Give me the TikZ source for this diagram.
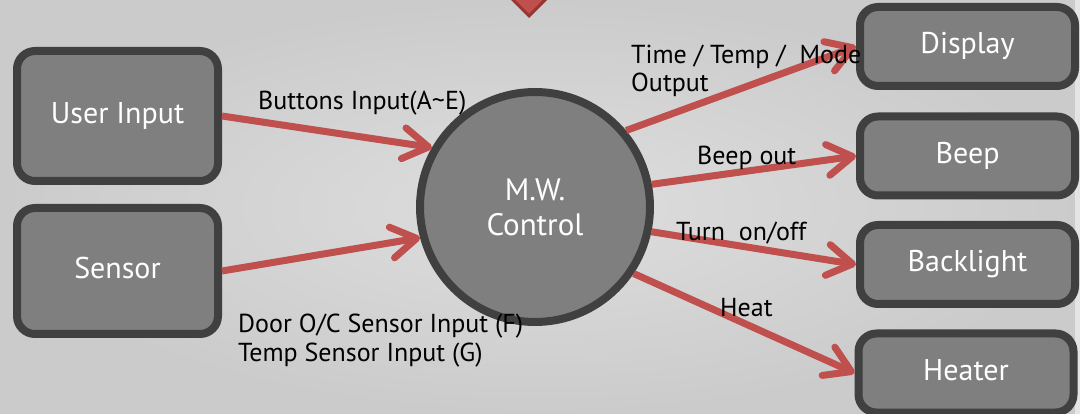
\documentclass[tikz,border=0pt]{standalone}
\usepackage{fontspec}
\setmainfont{PT Sans}
\usetikzlibrary{arrows.meta,shapes.geometric}
\definecolor{bgI}{HTML}{DEDEDE}
\definecolor{bgO}{HTML}{CBCBCB}
\definecolor{boxf}{HTML}{7F7F7F}
\definecolor{boxb}{HTML}{404040}
\definecolor{redc}{HTML}{C0504D}
\definecolor{dred}{HTML}{963634}
\begin{document}
\begin{tikzpicture}[x=1pt,y=-1pt,
  box/.style={draw=boxb, fill=boxf, line width=8pt, rounded corners=18pt, text=white,
    font=\fontsize{30}{34}\selectfont, text height=21pt, text depth=6pt, inner sep=0pt},
  lbox/.style={box, minimum width=201pt},
  rbox/.style={box, minimum width=215pt, minimum height=79pt},
  lab/.style={font=\fontsize{26}{30}\selectfont, anchor=base west, inner sep=0pt, text=black},
  arr/.style={draw=redc, line width=7pt, -{Straight Barb[length=25pt,width=31pt,round]},
    preaction={draw=black, opacity=0.12, transform canvas={yshift=-3pt}}}]
\useasboundingbox (0,0) rectangle (1080,414);
\shade[inner color=bgI, outer color=bgO] (0,0) rectangle (1080,414);
\fill[bgI!80!white] (1075,0) rectangle (1080,414);

\node[diamond, draw=dred, fill=redc, line width=3pt, minimum size=39pt, inner sep=0pt] (dia) at (529,-3) {};

\node[lbox, minimum height=130pt] (ui) at (117.5,116) {User Input};
\node[lbox, minimum height=126pt] (sen) at (117.5,271) {Sensor};
\node[rbox] (disp) at (967.5,46.5) {Display};
\node[rbox] (beep) at (967.5,156) {Beep};
\node[rbox] (bl) at (967.5,264.5) {Backlight};
\node[rbox] (heat) at (966,373) {Heater};
\node[circle, draw=boxb, fill=boxf, line width=8pt, minimum size=230pt, inner sep=0pt,
  text=white, align=center, font=\fontsize{31}{35}\selectfont] (mw) at (535,207) {M.W.\\Control};

\draw[arr] (ui.east) -- (mw.150);
\draw[arr] (sen.east) -- (mw.195);
\draw[arr] (mw.40) -- (disp.west);
\draw[arr] (mw.11) -- (beep.west);
\draw[arr] (mw.-12) -- (bl.west);
\draw[arr] (mw.-34) -- (heat.west);

\node[lab] (l1) at (258,110) {Buttons Input(A\textasciitilde E)};
\node[lab] (l2a) at (631,64) {Time / Temp /~~Mode};
\node[lab] (l2b) at (631,92) {Output};
\node[lab] (l3) at (697,165) {Beep out};
\node[lab] (l4) at (676,241) {Turn~~on/off};
\node[lab] (l5) at (720,317) {Heat};
\node[lab] (l6a) at (238,333) {Door O/C Sensor Input (F)};
\node[lab] (l6b) at (238,361) {Temp Sensor Input (G)};
\end{tikzpicture}
\end{document}
